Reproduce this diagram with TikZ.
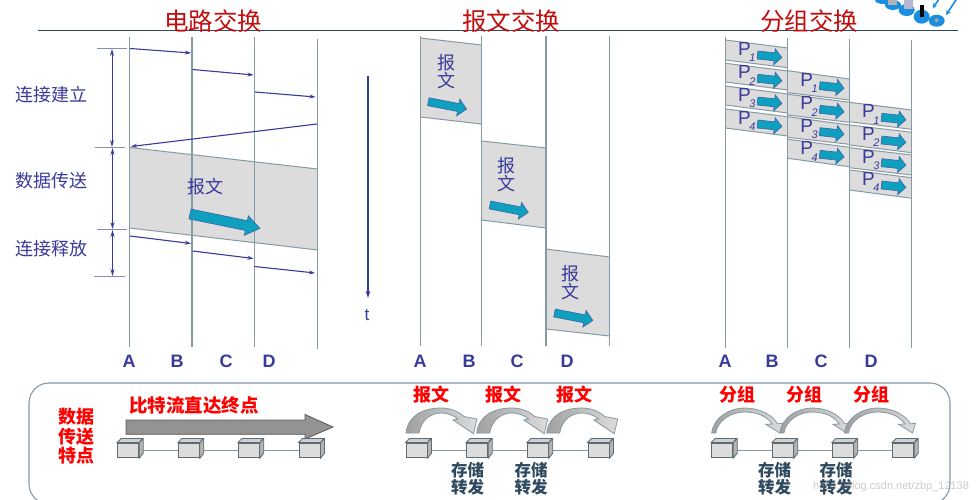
\documentclass[tikz,border=0pt]{standalone}
\usepackage{fontspec}
\setmainfont{Noto Sans CJK SC}
\newfontfamily\lat{Liberation Sans}
\usetikzlibrary{arrows.meta,calc}
\definecolor{indigo}{HTML}{3A3A9A}
\definecolor{rule}{HTML}{8799A3}
\definecolor{boxgray}{HTML}{DCDCDC}
\definecolor{tealfill}{HTML}{0F9FBF}
\definecolor{tealedge}{HTML}{3A62A8}
\definecolor{titlered}{HTML}{C00D0D}
\definecolor{slate}{HTML}{2F4A5E}
\definecolor{netblue}{HTML}{1A8FE0}
\definecolor{arcdark}{HTML}{A0A0A0}
\newcommand{\fs}[1]{\fontsize{#1}{#1}\selectfont}
\newcommand{\tealarrow}[7]{% x y angle len b w h
  \begin{scope}[shift={(#1,#2)},rotate=#3]
    \draw[tealarrowstyle] (0,-#5)--({#4-#7},-#5)--({#4-#7},-#6)--(#4,0)--({#4-#7},#6)--({#4-#7},#5)--(0,#5)--cycle;
  \end{scope}}
\newcommand{\fatarc}[2]{% x0 scale-x : message switching curved arrow
  \begin{scope}[shift={(#1,0)},xscale=#2]
    \draw[curvestyle] (0,433) .. controls (2,415) and (18,408) .. (35,408)
      .. controls (44,408) and (52,411) .. (58,416.5) -- (71,419) -- (67.5,433.7) -- (47,420) -- (52,419)
      .. controls (47,415) and (41,413) .. (35,413)
      .. controls (25,413) and (15,420) .. (13,433) -- cycle;
  \end{scope}}
\newcommand{\thinarc}[2]{% x0 scale-x : packet switching curved arrow
  \begin{scope}[shift={(#1,0)},xscale=#2]
    \draw[curvestyle] (0,433) .. controls (2,417) and (18,408) .. (33,408)
      .. controls (47,408) and (60,414) .. (66,423.8) -- (71,423.3) -- (68,433) -- (54,424.3) -- (60.5,424)
      .. controls (55,416) and (45,412) .. (33,412)
      .. controls (20,412) and (6,420) .. (4,433) -- cycle;
  \end{scope}}
\newcommand{\cubes}[5]{% prefix x1..x4
  \foreach \k/\cx in {1/#2,2/#3,3/#4,4/#5}{
    \node[cubeface] (#1\k) at ({\cx+10.5},450.4) {};
  }
  \draw[rule,line width=1pt] (#11.east)--(#12.west) (#12.east)--(#13.west) (#13.east)--(#14.west);
  \foreach \k in {1,2,3,4}{
    \draw[cubeedge,fill=boxgray!82!black] (#1\k.north east)--++(4,-4)--++(0,14.7)--(#1\k.south east)--cycle;
    \draw[cubeedge,fill=boxgray!94!black] (#1\k.north west)--++(4,-4)--++(21,0)--(#1\k.north east)--cycle;
  }}
\tikzset{
  x=1pt,y=-1pt,
  timeline/.style={rule,line width=1.3pt},
  signal/.style={indigo,line width=1.1pt,-{Stealth[length=6pt,width=4pt]}},
  dimline/.style={indigo,line width=.9pt,{Stealth[length=7pt,width=4pt]}-{Stealth[length=7pt,width=4pt]}},
  tick/.style={indigo!60,line width=.9pt},
  databox/.style={fill=boxgray,draw=none},
  slant/.style={rule,line width=1pt},
  tealarrowstyle/.style={fill=tealfill,draw=tealedge,line width=.6pt},
  lab/.style={indigo,inner sep=0pt,font=\fs{18}},
  title/.style={titlered,inner sep=0pt,font=\fs{24.5}},
  nodename/.style={indigo,inner sep=0pt,font=\lat\bfseries\fs{18}},
  redlab/.style={red,inner sep=0pt,font=\bfseries\fs{18}},
  store/.style={slate,inner sep=0pt,font=\bfseries\fs{16.5}},
  plab/.style={indigo,inner sep=0pt,font=\lat\fs{19}},
  psub/.style={indigo,inner sep=0pt,font=\lat\itshape\fs{11}},
  curvestyle/.style={draw=rule,line width=.8pt,left color=arcdark,right color=boxgray},
  cubeface/.style={draw=rule!70!black,fill=boxgray,line width=1pt,minimum width=21pt,minimum height=14.7pt,inner sep=0pt},
  cubeedge/.style={draw=rule!70!black,line width=.8pt},
  netdisc/.style={fill=netblue,draw=none},
  netarrow/.style={netblue,line width=1.6pt,-{Stealth[length=5pt,width=5pt]}},
}
\begin{document}
\begin{tikzpicture}
\useasboundingbox (0,0) rectangle (978,500);
\fill[white] (0,0) rectangle (978,500);

% network picture, top right
\begin{scope}
\clip (0,0) rectangle (978,500);
\fill[netdisc] (883,0) ellipse (8 and 4);
\fill[netdisc] (893,5) ellipse (8 and 5);
\fill[netdisc] (906.7,10) ellipse (8 and 6);
\fill[netdisc] (921.7,16.7) ellipse (8 and 7);
\fill[netdisc] (936.7,20.7) ellipse (8 and 6);
\fill[gray!70] (936.7,20.2) circle (2);
\fill[gray!60] (888,0) rectangle (897,5);
\fill[blue!25!gray!45] (904,0) rectangle (913,9);
\fill[black] (919.5,5) rectangle (924,17);
\coordinate (na1) at (939,-1); \coordinate (nb1) at (932.7,8.3);
\coordinate (na2) at (956.7,-1); \coordinate (nb2) at (946,15);
\draw[netarrow] (na1)--(nb1);
\draw[netarrow] (na2)--(nb2);
\end{scope}

% rule under the titles
\coordinate (ruleL) at (38,30.5); \coordinate (ruleR) at (958,30.5);
\draw[slate,line width=1.2pt] (ruleL)--(ruleR);
\node[title] (t1) at (213,21) {电路交换};
\node[title] (t2) at (511,21) {报文交换};
\node[title] (t3) at (809,21) {分组交换};

% ---------- circuit switching
\path[databox] (129.5,147.5)--(317.5,169)--(317.5,250)--(129.5,228)--cycle;
\foreach \n/\x/\a/\b in {a/129.5/37/347,b/192/37/347,c/254.5/37/347,d/317.5/39/349}{
  \coordinate (\n top) at (\x,\a); \coordinate (\n bot) at (\x,\b);
  \draw[timeline] (\n top)--(\n bot);
}
\draw[slant] (129.5,147.5)--(317.5,169);
\draw[slant] (129.5,228)--(317.5,250);
\foreach \i/\xa/\ya/\xb/\yb in {1/130/48.5/191/53,2/192.5/69.5/253.5/75,3/255/92/315.5/97,4/317/124/131/146.5,5/130/236/191/243.5,6/192.5/251/253.5/258.5,7/254.5/266.5/315/273}{
  \coordinate (s\i) at (\xa,\ya); \coordinate (e\i) at (\xb,\yb);
  \draw[signal] (s\i)--(e\i);
}
\foreach \i/\xa/\xb/\y in {1/97/127/48.5,2/95/125/147.5,3/97/127/229.5,4/94/125/276}{
  \coordinate (ta\i) at (\xa,\y); \coordinate (tb\i) at (\xb,\y);
  \draw[tick] (ta\i)--(tb\i);
}
\coordinate (d1) at (112,49); \coordinate (d2) at (112,147);
\coordinate (d3) at (112.5,148); \coordinate (d4) at (112.5,229);
\coordinate (d5) at (112.5,230); \coordinate (d6) at (112.5,276);
\draw[dimline] (d1)--(d2);
\draw[dimline] (d3)--(d4);
\draw[dimline] (d5)--(d6);
\node[lab] (l1) at (52,95) {连接建立};
\node[lab] (l2) at (52,181) {数据传送};
\node[lab] (l3) at (52,249) {连接释放};
\node[lab] (cmsg) at (205,187) {报文};
\tealarrow{190}{214}{-11.6}{71.5}{5}{10}{14}
\node[nodename] (a1) at (129,361) {A};
\node[nodename] (b1) at (177,361) {B};
\node[nodename] (c1) at (226,361) {C};
\node[nodename] (d1n) at (269,361) {D};
% time axis
\node[indigo,inner sep=0pt,font=\lat\fs{17}] (tlab) at (367,315) {t};
\coordinate (t0) at (368,76); \coordinate (t1e) at (368,298);
\draw[indigo,line width=1.1pt,-{Stealth[length=7pt,width=4.5pt]}] (t0)--(t1e);

% ---------- message switching
\foreach \xl/\xr/\ya/\yb/\yc/\yd in {420.5/481.5/38/45/124/117,481.5/546/141/148/228/220,546/609.5/249/257/336/329}{
  \path[databox] (\xl,\ya)--(\xr,\yb)--(\xr,\yc)--(\xl,\yd)--cycle;
  \draw[slant] (\xl,\ya)--(\xr,\yb);
  \draw[slant] (\xl,\yd)--(\xr,\yc);
}
\foreach \n/\x in {e/420.5,f/481.5,g/546,h/609.5}{
  \coordinate (\n top) at (\x,36.5); \coordinate (\n bot) at (\x,345.5);
  \draw[timeline] (\n top)--(\n bot);
}
\foreach \i/\x/\ya/\yb in {1/446/63/81,2/506/166/184,3/570/274/292}{
  \node[lab] (mb\i) at (\x,\ya) {报};
  \node[lab] (mw\i) at (\x,\yb) {文};
}
\tealarrow{428.3}{101.7}{-11}{39}{4}{8.5}{8.5}
\tealarrow{490}{205}{-11}{39}{4}{8.5}{8.5}
\tealarrow{554.5}{313}{-11}{39}{4}{8.5}{8.5}
\node[nodename] (a2) at (420,361) {A};
\node[nodename] (b2) at (469,361) {B};
\node[nodename] (c2) at (517,361) {C};
\node[nodename] (d2n) at (567,361) {D};

% ---------- packet switching
\foreach \xl/\xr/\ya/\yb/\yc/\yd in {
  725.5/787.7/40/48/67.7/60, 725.5/787.7/63.3/71/90/82, 725.5/787.7/86/94/113/105, 725.5/787.7/109/116.7/136/128,
  787.7/849.5/70.7/79/100/92.7, 787.7/849.5/94.3/102.3/122.3/115, 787.7/849.5/116.7/125/144.3/137.3, 787.7/849.5/139.3/147.3/166.7/158.3,
  849.5/911.7/102.3/110/129.3/121.7, 849.5/911.7/125/132.3/152.7/145, 849.5/911.7/147.7/155/175/167.7, 849.5/911.7/170/177.7/198.3/190}{
  \path[databox] (\xl,\ya)--(\xr,\yb)--(\xr,\yc)--(\xl,\yd)--cycle;
  \draw[slant] (\xl,\ya)--(\xr,\yb);
  \draw[slant] (\xl,\yd)--(\xr,\yc);
}
\foreach \n/\x/\a in {i/725.5/37,j/787.7/38,k/849.5/39,m/911.7/40}{
  \coordinate (\n top) at (\x,\a); \coordinate (\n bot) at (\x,348);
  \draw[timeline] (\n top)--(\n bot);
}
\foreach \c/\xl/\ya/\yb/\yc/\yd in {1/725.5/40/63.3/86/109, 2/787.7/70.7/94.3/116.7/139.3, 3/849.5/102.3/125/147.7/170}{
  \foreach \r/\y in {1/\ya,2/\yb,3/\yc,4/\yd}{
    \node[plab] (p\c\r) at ({\xl+19},{\y+9}) {P};
    \node[psub] (q\c\r) at ({\xl+27},{\y+18}) {\r};
    \tealarrow{\xl+32}{\y+15}{-6}{24.5}{4}{8}{7.5}
  }
}
\node[nodename] (a3) at (725,361) {A};
\node[nodename] (b3) at (772,361) {B};
\node[nodename] (c3) at (821,361) {C};
\node[nodename] (d3n) at (871,361) {D};

% ---------- bottom panel
\draw[rule,line width=1.1pt,rounded corners=20pt] (29,383) rectangle (950,504);
\node[redlab] (f1) at (76.5,416.5) {数据};
\node[redlab] (f2) at (76.5,436.5) {传送};
\node[redlab] (f3) at (76.5,456) {特点};
\node[redlab,font=\bfseries\fs{18.5}] (bit) at (194,405) {比特流直达终点};
\draw[fill=gray!85,draw=gray!70!black,line width=.8pt] (126,420)--(305,420)--(305,414.5)--(333,427)--(305,439)--(305,434.3)--(126,434.3)--cycle;
\cubes{u}{117.7}{178.3}{238.3}{299}
\fatarc{406}{1}
\fatarc{476.7}{1}
\fatarc{546.7}{1}
\cubes{v}{406}{466.7}{527.3}{588}
\foreach \i/\x in {1/431.7,2/503.3,3/574.3}{\node[redlab] (mr\i) at (\x,395) {报文};}
\foreach \i/\x in {1/467.7,2/531}{
  \node[store] (ms\i) at (\x,470) {存储};
  \node[store] (mf\i) at (\x,487.3) {转发};
}
\thinarc{711.7}{1}
\thinarc{780}{.98}
\thinarc{844.5}{1}
\cubes{w}{711.7}{772.3}{832.3}{892.7}
\foreach \i/\x in {1/737.3,2/804.3,3/871}{\node[redlab] (pr\i) at (\x,395) {分组};}
\foreach \i/\x in {1/774.7,2/836}{
  \node[store] (ps\i) at (\x,470) {存储};
  \node[store] (pf\i) at (\x,487.3) {转发};
}
\node[gray,opacity=.4,inner sep=0pt,font=\lat\fs{11}] (wm) at (891,487) {https://blog.csdn.net/zbp\_12138};
\end{tikzpicture}
\end{document}
